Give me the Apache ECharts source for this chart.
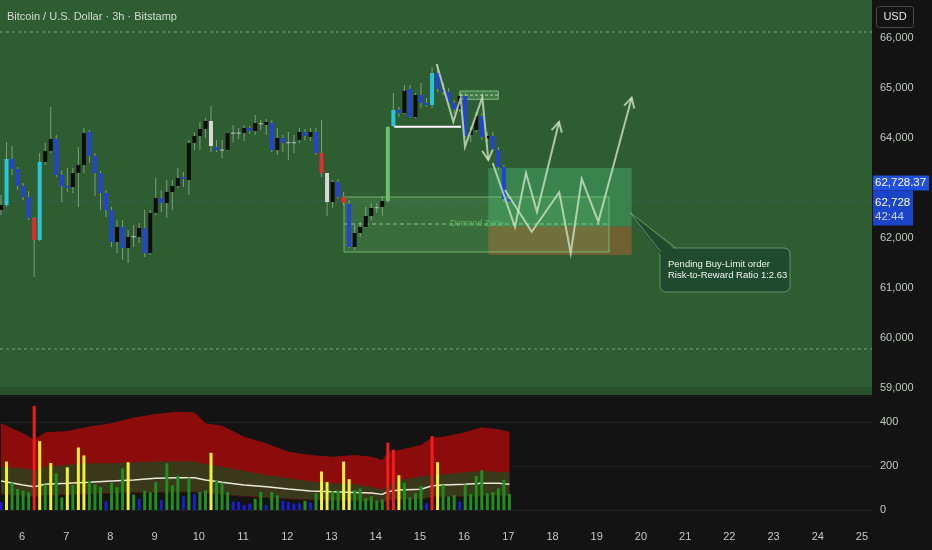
<!DOCTYPE html>
<html>
<head>
<meta charset="utf-8">
<script src="https://cdn.jsdelivr.net/npm/echarts@6.0.0/dist/echarts.min.js"></script>
<style>
  html, body { margin: 0; padding: 0; background: #131313; }
  #main { width: 932px; height: 550px; }
</style>
</head>
<body>
<div id="main"></div>
<script>
// 3h BTC/USD bars, first bar sits just before day 6
const firstBarDay = 5.525;
const barsPerDay = 8;

// open, high, low, close
const ohlc = [
  [62560,62860,62460,62660],[62660,63920,62620,63580],[63580,63840,63260,63380],[63380,63420,62960,63040],
  [63040,63100,62760,62820],[62820,62940,62360,62400],[62400,62420,61220,61960],[61960,63700,61940,63520],
  [63520,63900,63460,63740],[63740,64620,63700,63980],[63980,64060,63220,63260],[63260,63360,62720,63040],
  [63040,63400,62920,63000],[63020,63400,62900,63300],[63300,63820,62620,63460],[63460,64200,63300,64100],
  [64120,64160,63500,63640],[63640,63700,62840,63300],[63300,63340,62560,62900],[62900,62960,62420,62560],
  [62560,62620,61820,61920],[61920,62360,61700,62220],[62220,62360,61560,61800],[61800,62160,61500,62020],
  [62020,62260,61820,62040],[62020,62300,61900,62200],[62200,62560,61620,61700],[61700,62560,61660,62500],
  [62500,63200,62460,62800],[62800,62960,62520,62700],[62700,63160,62400,62920],[62920,63160,62560,63040],
  [63040,63400,63000,63200],[63220,63320,63020,63180],[63160,63960,62860,63900],[63900,64120,63760,64040],
  [64040,64320,63760,64180],[64180,64400,64000,64340],[64340,64640,63720,63840],[63820,63960,63720,63760],
  [63760,63960,63600,63770],[63760,64120,63740,64100],[64100,64260,63920,64110],[64110,64200,63980,64100],
  [64100,64260,63940,64200],[64200,64240,64080,64140],[64140,64460,64060,64300],[64300,64360,64160,64280],
  [64260,64380,64060,64320],[64300,64360,63720,63760],[63760,64200,63660,64000],[64000,64060,63720,63900],
  [63900,64120,63560,63920],[63920,64060,63700,63900],[63960,64200,63900,64120],[64120,64180,63960,64040],
  [64020,64200,63940,64120],[64120,64200,63660,63700],[63700,64360,63220,63300],[63300,63300,62440,62720],
  [62720,63160,62600,63120],[63120,63180,62780,62820],[62820,62920,62660,62700],[62680,62760,61800,61820],
  [61820,62260,61760,62100],[62100,62320,62020,62220],[62220,62620,62200,62440],[62440,62700,62360,62600],
  [62600,62700,62500,62620],[62620,62840,62440,62740],[62740,64240,62700,64220],[64240,64900,64220,64560],
  [64560,64620,64420,64500],[64500,65060,64480,64940],[64980,65060,64400,64420],[64420,64900,64400,64860],
  [64860,65100,64600,64700],[64700,64800,64620,64660],[64660,65420,64600,65300],[65300,65460,64920,64980],
  [64980,65100,64860,64920],[64920,65000,64660,64700],[64700,64760,64480,64580],[64580,64920,64520,64840],
  [64840,64900,64020,64040],[64060,64220,63920,64160],[64160,64520,64120,64440],[64440,64500,63960,64020],
  [63990,64120,63920,64040],[64040,64120,63740,63780],[63760,63820,63360,63420],[63420,63460,62720,62780],
  [62780,62800,62700,62728]
];
// k black, b blue, c cyan, r red, w white, g light green, d doji
const candleTone = ('kcbbbbrckk' + 'bbbkkkbbbb' + 'bkbkdkbkkb' + 'kkkbkkkkwb' + 'dkddkbkdkb' +
  'kbddkbkbrw' + 'kbrbkkkkdk' + 'gcbkbkbbcb' + 'bbbkbkkbkb' + 'bbb').split('');

const volumes = [36,220,124,96,88,81,473,313,116,214, 167,57,194,113,284,248,132,116,104,39,
  124,104,189,217,70,51,88,81,127,47, 212,112,155,62,147,73,82,88,260,132,
  124,82,39,36,23,29,51,82,23,81, 67,42,36,29,31,42,34,76,175,127,
  85,88,220,140,90,98,54,62,42,47, 306,274,158,124,57,76,109,31,336,217,
  113,62,67,39,116,73,155,181,76,82, 98,138,73];
const volTone = ('byggggrygy' + 'ggygyygggb' + 'gggygbgggb' + 'gggbgbggyg' + 'ggbbbbggbg' +
  'gbbbbgbgyy' + 'ggyygggggg' + 'rryggggbry' + 'gggbgggggg' + 'ggg').split('');

// volume envelope, sampled at these bar indices
const bandIdx   = [0,4,6,8,12,16,20,24,28,32,35,37,40,44,48,52,56,60,64,67,69,70,72,76,78,80,84,87,90,92];
const bandUpper = [394,349,318,353,359,379,394,420,436,447,444,394,383,333,303,265,250,242,250,242,227,262,273,295,329,333,353,376,367,356];
const bandMid   = [197,189,182,197,205,212,212,217,220,220,220,208,197,177,159,144,129,121,117,106,91,114,136,152,159,162,171,177,174,171];
const volMa     = [132,114,106,117,121,126,132,136,144,147,147,136,126,114,106,95,86,83,80,77,71,83,91,94,110,114,117,121,121,117];
const bandLower = [72,64,60,66,70,72,76,78,80,82,82,76,70,62,56,50,46,44,42,40,36,44,48,50,58,60,62,64,64,62];

const dayTicks = [6,7,8,9,10,11,12,13,14,15,16,17,18,19,20,21,22,23,24,25];
const priceTicks = [59000,60000,61000,62000,64000,65000,66000];
const volTicks = [0,200,400];

// drawings, [day, price]
const demandZone = {d0: 13.283, d1: 19.278, low: 61720, high: 62820, mid: 62280};
const position = {d0: 16.547, d1: 19.791, target: 63400, entry: 62230, stop: 61660};
const topBox = {d0: 15.907, d1: 16.774, low: 64774, high: 64940};
const whiteLine = {d0: 14.421, d1: 15.930, price: 64226};
const rangeLines = [66120, 59780];
const pathDown = [[15.380,65480],[15.756,64326],[15.923,64800],[16.020,63826],[16.412,64814],[16.547,63560]];
const pathUp1 = [[16.647,63500],[17.151,62220],[17.400,63300],[17.649,62520],[18.147,64320]];
const pathUp2 = [[16.925,62960],[17.529,62126],[18.153,62914],[18.411,61694],[18.660,63180],[19.036,62326],[19.791,64806]];
const callout = {d0: 20.431, d1: 23.372, top: 61800, bottom: 60920,
  tip: [19.753, 62510], base1: [20.454, 61720], base2: [20.789, 61800]};
const calloutText = ['Pending Buy-Limit order', 'Risk-to-Reward Ratio 1:2.63'];

const X_MIN = 5.5021, X_MAX = 25.2266;
const FONT = "'Liberation Sans', Arial, sans-serif";
const barX = i => firstBarDay + i / barsPerDay;
const lastClose = ohlc[ohlc.length - 1][3];

const toneColor = {k:'#0c0c0c', b:'#2243d6', c:'#2ec4d8', r:'#e22d2d', w:'#d7d7d7', g:'#6cc06c', d:'#a6b4a6'};
const volColor = {b:'#1c1cd2', g:'#1f8f1f', y:'#f2f232', r:'#f21c1c'};

const chart = echarts.init(document.getElementById('main'));

function renderCandle(params, api) {
  const x = api.value(0);
  const pO = api.coord([x, api.value(1)]);
  const pH = api.coord([x, api.value(2)]);
  const pL = api.coord([x, api.value(3)]);
  const pC = api.coord([x, api.value(4)]);
  const col = toneColor[candleTone[api.value(5)]];
  const top = Math.min(pO[1], pC[1]);
  const h = Math.max(Math.abs(pO[1] - pC[1]), 1.3);
  return {
    type: 'group',
    children: [
      {type: 'line', shape: {x1: pO[0], y1: pH[1], x2: pO[0], y2: pL[1]},
        style: {stroke: 'rgba(170,190,170,0.65)', lineWidth: 1}},
      {type: 'rect', shape: {x: pO[0] - 2, y: top, width: 4, height: h}, style: {fill: col}}
    ]
  };
}

function helpers(api) {
  const P = (d, p) => api.coord([d, p]);
  const rect = (d0, d1, pLow, pHigh, style) => {
    const a = P(d0, pHigh), b = P(d1, pLow);
    return {type: 'rect', shape: {x: a[0], y: a[1], width: b[0] - a[0], height: b[1] - a[1]}, style};
  };
  const hline = (d0, d1, p, style) => {
    const a = P(d0, p), b = P(d1, p);
    return {type: 'line', shape: {x1: a[0], y1: a[1], x2: b[0], y2: b[1]}, style};
  };
  return {P, rect, hline};
}

function renderZones(params, api) {
  const {P, rect, hline} = helpers(api);
  const dash = {stroke: 'rgba(185,215,185,0.55)', lineWidth: 1, lineDash: [3, 3]};
  const c = [];
  c.push(rect(X_MIN, X_MAX, 58860, 59020, {fill: '#27502b'}));
  rangeLines.forEach(p => c.push(hline(X_MIN, X_MAX, p, dash)));
  c.push(hline(X_MIN, X_MAX, lastClose, {stroke: 'rgba(70,110,200,0.6)', lineWidth: 1, lineDash: [1, 2]}));
  c.push(rect(position.d0, position.d1, position.entry, position.target, {fill: 'rgba(70,180,110,0.45)'}));
  c.push(rect(position.d0, position.d1, position.stop, position.entry, {fill: 'rgba(190,100,50,0.45)'}));
  c.push(rect(demandZone.d0, demandZone.d1, demandZone.low, demandZone.high,
    {fill: 'rgba(130,210,130,0.14)', stroke: 'rgba(130,205,130,0.75)', lineWidth: 1}));
  c.push(hline(demandZone.d0, demandZone.d1, demandZone.mid, {stroke: 'rgba(150,215,150,0.8)', lineWidth: 1, lineDash: [4, 3]}));
  const t = P(16.29, demandZone.mid);
  c.push({type: 'text', style: {text: 'Demand Zone', x: t[0], y: t[1], align: 'center', verticalAlign: 'middle',
    fill: '#5cb868', font: '8.5px ' + FONT}});
  c.push(rect(topBox.d0, topBox.d1, topBox.low, topBox.high,
    {fill: 'rgba(130,210,130,0.25)', stroke: 'rgba(140,210,140,0.8)', lineWidth: 1}));
  c.push(hline(topBox.d0, topBox.d1, (topBox.low + topBox.high) / 2, {stroke: 'rgba(170,225,170,0.9)', lineWidth: 1, lineDash: [3, 2]}));
  return {type: 'group', children: c};
}

function arrowPath(api, pts, withHead) {
  const px = pts.map(p => api.coord(p));
  const out = [{type: 'polyline', shape: {points: px},
    style: {stroke: 'rgba(205,228,200,0.78)', lineWidth: 2, fill: null}}];
  if (withHead) {
    const a = px[px.length - 1], b = px[px.length - 2];
    const dx = a[0] - b[0], dy = a[1] - b[1], len = Math.hypot(dx, dy);
    const ux = dx / len, uy = dy / len, L = 11, ang = 0.5;
    const arm = s => [a[0] - L * (ux * Math.cos(ang) - s * uy * Math.sin(ang)),
                      a[1] - L * (uy * Math.cos(ang) + s * ux * Math.sin(ang))];
    out.push({type: 'polyline', shape: {points: [arm(1), a, arm(-1)]},
      style: {stroke: 'rgba(205,228,200,0.78)', lineWidth: 2, fill: null}});
  }
  return out;
}

function renderOverlays(params, api) {
  const {P, hline} = helpers(api);
  const c = [];
  c.push(hline(whiteLine.d0, whiteLine.d1, whiteLine.price, {stroke: '#ffffff', lineWidth: 2}));
  [pathDown, pathUp1, pathUp2].forEach(p => arrowPath(api, p, true).forEach(e => c.push(e)));
  const fill = '#1f4a2d', border = 'rgba(150,200,160,0.55)';
  const a = P(callout.d0, callout.top), b = P(callout.d1, callout.bottom);
  c.push({type: 'rect', shape: {x: a[0], y: a[1], width: b[0] - a[0], height: b[1] - a[1], r: 6},
    style: {fill, stroke: border, lineWidth: 1}});
  const tip = P(...callout.tip), b1 = P(...callout.base1), b2 = P(...callout.base2);
  c.push({type: 'polygon', shape: {points: [tip, [b1[0], b1[1] + 3], [b2[0], b2[1] + 3]]}, style: {fill}});
  c.push({type: 'polyline', shape: {points: [b1, tip, b2]}, style: {stroke: border, lineWidth: 1, fill: null}});
  calloutText.forEach((s, k) => c.push({type: 'text', style: {text: s, x: a[0] + 8, y: a[1] + 16 + k * 11.5,
    verticalAlign: 'middle', fill: '#eef4ee', font: '9.5px ' + FONT}}));
  return {type: 'group', children: c};
}

const labelStyle = {color: '#c4c8c4', fontSize: 11, fontFamily: FONT};

chart.setOption({
  backgroundColor: '#131313',
  animation: false,
  grid: [
    {left: 0, top: 0, width: 872, height: 395, show: true, backgroundColor: '#2e5d32', borderWidth: 0},
    {left: 0, top: 396, width: 872, height: 114, show: false}
  ],
  xAxis: [
    {gridIndex: 0, type: 'value', min: X_MIN, max: X_MAX, show: false},
    {gridIndex: 1, type: 'value', min: X_MIN, max: X_MAX, splitLine: {show: false},
      axisLine: {show: false}, axisTick: {show: false},
      axisLabel: Object.assign({customValues: dayTicks, margin: 21, formatter: v => String(Math.round(v))}, labelStyle)}
  ],
  yAxis: [
    {gridIndex: 0, type: 'value', position: 'right', min: 58860, max: 66760,
      splitLine: {show: false}, axisLine: {show: false}, axisTick: {show: false},
      axisLabel: Object.assign({customValues: priceTicks, margin: 8,
        formatter: v => v.toLocaleString('en-US')}, labelStyle)},
    {gridIndex: 1, type: 'value', position: 'right', min: 0, max: 518,
      splitLine: {show: true, lineStyle: {color: '#1f1f1f'}}, interval: 200,
      axisLine: {show: false}, axisTick: {show: false},
      axisLabel: Object.assign({customValues: volTicks, margin: 8}, labelStyle)}
  ],
  series: [
    {type: 'custom', name: 'zones', xAxisIndex: 0, yAxisIndex: 0, z: 2, clip: true,
      data: [[X_MIN, 60000]], encode: {x: 0, y: 1}, renderItem: renderZones, silent: true},
    {type: 'custom', name: 'BTCUSD', xAxisIndex: 0, yAxisIndex: 0, z: 5, clip: true,
      data: ohlc.map((c, i) => [barX(i), c[0], c[1], c[2], c[3], i]),
      encode: {x: 0, y: [1, 2, 3, 4]}, renderItem: renderCandle},
    {type: 'custom', name: 'drawings', xAxisIndex: 0, yAxisIndex: 0, z: 8, clip: true,
      data: [[X_MIN, 60000]], encode: {x: 0, y: 1}, renderItem: renderOverlays, silent: true},
    {type: 'line', xAxisIndex: 1, yAxisIndex: 1, z: 1, symbol: 'none',
      data: bandIdx.map((k, j) => [barX(k), bandUpper[j]]),
      lineStyle: {width: 0}, areaStyle: {color: '#8c0c0c', opacity: 1}},
    {type: 'line', xAxisIndex: 1, yAxisIndex: 1, z: 2, symbol: 'none',
      data: bandIdx.map((k, j) => [barX(k), bandMid[j]]),
      lineStyle: {width: 0}, areaStyle: {color: '#3a381b', opacity: 1}},
    {type: 'line', xAxisIndex: 1, yAxisIndex: 1, z: 3, symbol: 'none',
      data: bandIdx.map((k, j) => [barX(k), bandLower[j]]),
      lineStyle: {width: 1, color: '#4a1212'}, areaStyle: {color: '#131313', opacity: 1}},
    {type: 'line', xAxisIndex: 1, yAxisIndex: 1, z: 4, symbol: 'none',
      data: bandIdx.map((k, j) => [barX(k), volMa[j]]),
      lineStyle: {width: 1.5, color: '#e8e8da'}},
    {type: 'bar', xAxisIndex: 1, yAxisIndex: 1, z: 5, barWidth: 3,
      data: volumes.map((v, i) => ({value: [barX(i), v], itemStyle: {color: volColor[volTone[i]]}}))}
  ]
});

const py = chart.convertToPixel({yAxisIndex: 0}, lastClose);
const priceText = lastClose.toLocaleString('en-US');
const boxFont = '11.5px ' + FONT;
chart.setOption({
  graphic: [
    {type: 'text', x: 7, y: 17, style: {text: 'Bitcoin / U.S. Dollar · 3h · Bitstamp', fill: '#d3dbd3',
      font: '11px ' + FONT, verticalAlign: 'middle'}},
    {type: 'rect', shape: {x: 876.5, y: 6.5, width: 37, height: 21, r: 3}, style: {fill: 'transparent', stroke: '#4a4a4a'}},
    {type: 'text', x: 895, y: 17, style: {text: 'USD', fill: '#e2e2e2', font: '11px ' + FONT, align: 'center', verticalAlign: 'middle'}},
    {type: 'rect', shape: {x: 873, y: py - 26, width: 56, height: 15}, style: {fill: '#2150e0'}},
    {type: 'text', x: 875, y: py - 18.5, style: {text: '62,728.37', fill: '#ffffff', font: boxFont, verticalAlign: 'middle'}},
    {type: 'rect', shape: {x: 873, y: py - 11, width: 40, height: 35}, style: {fill: '#1b44c9'}},
    {type: 'text', x: 875, y: py + 1.5, style: {text: priceText, fill: '#ffffff', font: boxFont, verticalAlign: 'middle'}},
    {type: 'text', x: 875, y: py + 15.5, style: {text: '42:44', fill: '#c9d5ff', font: boxFont, verticalAlign: 'middle'}}
  ]
});
</script>
</body>
</html>
